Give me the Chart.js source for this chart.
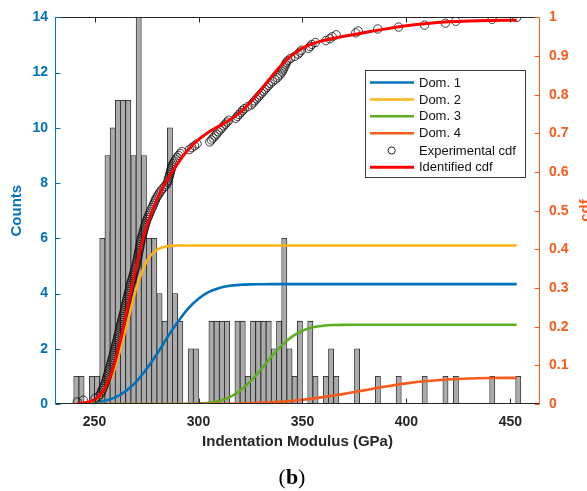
<!DOCTYPE html>
<html><head><meta charset="utf-8">
<script src="https://cdn.jsdelivr.net/npm/chart.js@4.4.1/dist/chart.umd.min.js"></script>
<style>html,body{margin:0;padding:0;background:#fff;}#wrap{width:587px;height:491px;}</style>
</head><body><div id="wrap"><canvas id="c" width="587" height="491"></canvas></div>
<script>
// ---- data ----
const binCenters = [241.25,243.75,246.25,248.75,251.25,253.75,256.25,258.75,261.25,263.75,
266.25,268.75,271.25,273.75,276.25,278.75,281.25,283.75,286.25,288.75,
291.25,293.75,296.25,298.75,301.25,303.75,306.25,308.75,311.25,313.75,
316.25,318.75,321.25,323.75,326.25,328.75,331.25,333.75,336.25,338.75,
341.25,343.75,346.25,348.75,351.25,353.75,356.25,358.75,361.25,363.75,
366.25,368.75,371.25,373.75,376.25,378.75,381.25,383.75,386.25,388.75,
391.25,393.75,396.25,398.75,401.25,403.75,406.25,408.75,411.25,413.75,
416.25,418.75,421.25,423.75,426.25,428.75,431.25,433.75,436.25,438.75,
441.25,443.75,446.25,448.75,451.25,453.75];
const counts = [1,1,0,1,1,6,9,10,11,11,
11,9,14,9,6,6,4,3,10,4,
3,0,2,2,0,0,3,3,3,3,
0,3,3,1,3,3,3,3,2,3,
6,2,1,3,0,3,1,0,1,2,
1,0,0,0,2,0,0,0,1,0,
0,0,1,0,0,0,0,1,0,0,
0,1,0,1,0,0,0,0,0,0,
1,0,0,0,0,1];
const curveX = [241.7,245,250,255,260,265,270,275,280,285,290,295,300,305,310,315,320,325,330,335,340,345,350,355,360,365,370,375,380,390,400,410,420,430,440,453];
const dom1 = [0.0007,0.0014,0.0035,0.0083,0.0173,0.0333,0.0571,0.0903,0.1292,0.1723,0.2122,0.247,0.2725,0.2901,0.3003,0.3058,0.3083,0.3094,0.3098,0.31,
0.31,0.31,0.31,0.31,0.31,0.31,0.31,0.31,0.31,0.31,0.31,0.31,0.31,0.31,0.31,0.31];
const dom2 = [0.0003,0.0013,0.0079,0.0331,0.0954,0.1936,0.2975,0.3682,0.399,0.4081,0.4098,
0.41,0.41,0.41,0.41,0.41,0.41,0.41,0.41,0.41,0.41,0.41,0.41,0.41,0.41,0.41,0.41,0.41,0.41,0.41,0.41,0.41,0.41,0.41,0.41,0.41];
const dom3 = [0,0,0,0,0,0,0,0,0,0,0,
0.0003,0.0011,0.0032,0.008,0.0178,0.0345,0.059,0.0895,0.1219,0.1515,0.1744,0.1896,0.1983,0.2024,0.2042,0.2048,0.205,0.205,
0.205,0.205,0.205,0.205,0.205,0.205,0.205];
const dom4 = [0,0,0,0,0,0,0,0,0,0,0,
0.0001,0.0002,0.0003,0.0005,0.0008,0.0013,0.002,0.003,0.0042,0.0059,0.0081,0.0108,0.014,0.0178,0.022,0.0262,0.031,0.0359,
0.0453,0.0534,0.0594,0.0635,0.0659,0.0671,0.0677];
const identified = [0.001,0.0027,0.0114,0.0414,0.1127,0.2269,0.3546,0.4585,0.5282,0.5804,0.622,0.6574,0.6838,0.7036,0.7188,0.7344,0.7541,0.7804,0.8123,0.8461,
0.8774,0.9025,0.9204,0.9323,0.9402,0.9462,0.951,0.956,0.9609,0.9703,0.9784,0.9844,0.9885,0.9909,0.9921,0.9927];
const expCdf = [[241.7,.005],[244.6,.010],[250.3,.015],[252.0,.020],[252.8,.025],[253.2,.030],[253.6,.035],[254.0,.040],[254.4,.045],[254.8,.050],
[255.2,.055],[255.5,.060],[255.8,.065],[256.0,.070],[256.3,.075],[256.6,.080],[256.9,.085],[257.1,.090],[257.4,.095],[257.7,.101],
[258.0,.106],[258.2,.111],[258.5,.116],[258.7,.121],[259.0,.126],[259.2,.131],[259.5,.136],[259.7,.141],[259.9,.146],[260.1,.151],
[260.4,.156],[260.6,.161],[260.9,.166],[261.1,.171],[261.3,.176],[261.6,.181],[261.8,.186],[262.0,.191],[262.2,.196],[262.4,.201],
[262.6,.206],[262.9,.211],[263.1,.216],[263.4,.221],[263.6,.226],[263.8,.231],[264.1,.236],[264.3,.241],[264.5,.246],[264.7,.251],
[264.9,.256],[265.1,.261],[265.4,.266],[265.6,.271],[265.8,.276],[266.1,.281],[266.3,.286],[266.5,.291],[266.8,.296],[267.0,.302],
[267.2,.307],[267.4,.312],[267.7,.317],[268.0,.322],[268.3,.327],[268.6,.332],[268.8,.337],[269.1,.342],[269.4,.347],[269.6,.352],
[269.9,.357],[270.1,.362],[270.3,.367],[270.5,.372],[270.7,.377],[270.9,.382],[271.0,.387],[271.2,.392],[271.4,.397],[271.6,.402],
[271.8,.407],[271.9,.412],[272.1,.417],[272.3,.422],[272.4,.427],[272.7,.432],[273.0,.437],[273.3,.442],[273.5,.447],[273.8,.452],
[274.1,.457],[274.3,.462],[274.6,.467],[274.9,.472],[275.2,.477],[275.6,.482],[276.0,.487],[276.4,.492],[276.8,.497],[277.2,.503],
[277.7,.508],[278.1,.513],[278.5,.518],[278.9,.523],[279.3,.528],[279.7,.533],[280.3,.538],[280.9,.543],[281.5,.548],[282.1,.553],
[283.0,.558],[283.8,.563],[284.6,.568],[285.1,.573],[285.4,.578],[285.6,.583],[285.9,.588],[286.1,.593],[286.4,.598],[286.6,.603],
[286.9,.608],[287.1,.613],[287.4,.618],[287.9,.623],[288.5,.628],[289.1,.633],[289.7,.638],[290.4,.643],[291.2,.648],[292.0,.653],
[295.6,.658],[296.8,.663],[298.1,.668],[299.3,.673],[305.4,.678],[306.2,.683],[307.0,.688],[307.9,.693],[308.7,.698],[309.5,.704],
[310.4,.709],[311.2,.714],[312.0,.719],[312.9,.724],[313.7,.729],[314.5,.734],[317.9,.739],[318.7,.744],[319.5,.749],[320.4,.754],
[321.2,.759],[322.0,.764],[323.7,.769],[325.4,.774],[326.2,.779],[327.0,.784],[327.9,.789],[328.7,.794],[329.5,.799],[330.4,.804],
[331.2,.809],[332.0,.814],[332.9,.819],[333.7,.824],[334.5,.829],[335.6,.834],[336.8,.839],[337.9,.844],[338.7,.849],[339.5,.854],
[340.2,.859],[340.6,.864],[341.0,.869],[341.5,.874],[341.9,.879],[342.3,.884],[343.1,.889],[344.3,.894],[346.2,.899],[347.9,.905],
[348.7,.910],[349.5,.915],[352.9,.920],[353.7,.925],[354.5,.930],[356.2,.935],[361.2,.940],[363.1,.945],[364.3,.950],[366.2,.955],
[375.6,.960],[376.8,.965],[386.2,.970],[396.2,.975],[408.7,.980],[418.7,.985],[423.7,.990],[441.2,.995],[453.0,1.000]];
const xTicks = [250,300,350,400,450];
const countTicks = [0,2,4,6,8,10,12,14];
const cdfTicks = [0,0.1,0.2,0.3,0.4,0.5,0.6,0.7,0.8,0.9,1];
const seriesNames = ['Dom. 1','Dom. 2','Dom. 3','Dom. 4','Experimental cdf','Identified cdf'];
const xTitle = 'Indentation Modulus (GPa)';
const yTitle = 'Counts';
const y1Title = 'cdf';
const panelLabel = '(b)';

// ---- styles ----
const COL = {blue:'#0072BD', yellow:'#FDB212', green:'#5EAE22', orange:'#F85A1B', red:'#FF0000', ink:'#262626'};
const SANS = "'Liberation Sans', Arial, sans-serif";
const SERIF = '"Liberation Serif", "Times New Roman", serif';
const pts = (xs, ys) => xs.map((x,i)=>({x, y:ys[i]}));

const overlay = {
  id:'overlay',
  afterDatasetsDraw(chart){
    const {ctx, chartArea:a, scales} = chart;
    const L = Math.round(a.left)+0.5, R = Math.round(a.right)-0.5, T = Math.round(a.top)+0.5, B = Math.round(a.bottom)-0.5;
    const seg=(x1,y1,x2,y2)=>{ctx.beginPath();ctx.moveTo(x1,y1);ctx.lineTo(x2,y2);ctx.stroke();};
    ctx.save(); ctx.lineWidth=1;
    ctx.strokeStyle=COL.ink;
    seg(L,T,R,T); seg(L,B,R,B);
    xTicks.forEach(v=>{const p=Math.round(scales.x.getPixelForValue(v))+0.5; seg(p,B,p,B-5); seg(p,T,p,T+5);});
    ctx.strokeStyle=COL.blue; seg(L,T-0.5,L,B+0.5);
    countTicks.forEach(v=>{const p=Math.round(scales.y.getPixelForValue(v))+0.5; seg(L,p,L+5,p);});
    ctx.strokeStyle=COL.orange; seg(R,T-0.5,R,B+0.5);
    cdfTicks.forEach(v=>{const p=Math.round(scales.y1.getPixelForValue(v))+0.5; seg(R,p,R-5,p);});
    ctx.restore();
  },
  afterDraw(chart){
    const {ctx} = chart;
    const ds = chart.data.datasets;
    ctx.save();
    // legend box
    const bx=365.5, by=70.5, bw=160, bh=107;
    ctx.fillStyle='#fff'; ctx.fillRect(bx,by,bw,bh);
    ctx.strokeStyle='#3a3a3a'; ctx.lineWidth=1; ctx.strokeRect(bx,by,bw,bh);
    const rows=[82.5,99.5,116.3,133.3,150.5,167.3];
    ctx.font='13px '+SANS; ctx.textBaseline='middle'; ctx.textAlign='left'; ctx.fillStyle='#111';
    for(let i=0;i<6;i++){
      const d = ds[i+1], yy=rows[i];
      if(i===4){
        ctx.beginPath(); ctx.arc(391.7,yy,3.6,0,Math.PI*2); ctx.strokeStyle='#111'; ctx.lineWidth=0.9; ctx.stroke();
      } else {
        ctx.beginPath(); ctx.moveTo(370,yy); ctx.lineTo(414,yy); ctx.strokeStyle=d.borderColor; ctx.lineWidth=d.borderWidth; ctx.stroke();
      }
      ctx.fillStyle='#111'; ctx.fillText(d.label,419,yy+0.5);
    }
    // right axis title
    ctx.save(); ctx.translate(590,210.5); ctx.rotate(-Math.PI/2);
    ctx.font='bold 15px '+SANS; ctx.fillStyle=COL.orange; ctx.textAlign='center'; ctx.textBaseline='alphabetic';
    ctx.fillText(y1Title,0,0); ctx.restore();
    // panel label (b)
    const fN='22px '+SERIF, fB='bold 22px '+SERIF;
    ctx.font=fN; const w1=ctx.measureText('(').width;
    ctx.font=fB; const w2=ctx.measureText('b').width;
    ctx.font=fN; const w3=ctx.measureText(')').width;
    let x0 = 292 - (w1+w2+w3)/2, yb=484;
    ctx.fillStyle='#000'; ctx.textAlign='left'; ctx.textBaseline='alphabetic';
    ctx.font=fN; ctx.fillText('(',x0,yb);
    ctx.font=fB; ctx.fillText(panelLabel.slice(1,2),x0+w1,yb);
    ctx.font=fN; ctx.fillText(')',x0+w1+w2,yb);
    ctx.restore();
  }
};

const lineDs = (label, ys, color, width, order) => ({type:'line', label, data:pts(curveX, ys), yAxisID:'y1', borderColor:color, backgroundColor:color, borderWidth:width, pointRadius:0, cubicInterpolationMode:'monotone', fill:false, order});

new Chart(document.getElementById('c'), {
  type:'bar',
  data:{datasets:[
    {type:'bar', label:yTitle, data:pts(binCenters, counts), yAxisID:'y', backgroundColor:'#ABABAB', borderColor:'#1E1E1E', borderWidth:0.8, borderSkipped:'start', barPercentage:1, categoryPercentage:1, order:10},
    lineDs(seriesNames[0], dom1, COL.blue, 2.6, 6),
    lineDs(seriesNames[1], dom2, COL.yellow, 2.6, 5),
    lineDs(seriesNames[2], dom3, COL.green, 2.6, 4),
    lineDs(seriesNames[3], dom4, COL.orange, 2.6, 3),
    {type:'line', label:seriesNames[4], data:expCdf.map(p=>({x:p[0], y:p[1]})), yAxisID:'y1', showLine:false, pointRadius:4.2, pointBorderWidth:0.8, pointBorderColor:'#111', pointBackgroundColor:'rgba(0,0,0,0)', borderColor:'#111', order:2},
    lineDs(seriesNames[5], identified, COL.red, 3, 1)
  ]},
  options:{
    responsive:false, animation:false, devicePixelRatio:1,
    layout:{padding:{top:17, left:0, right:0, bottom:0}},
    plugins:{legend:{display:false}, tooltip:{enabled:false}},
    scales:{
      x:{type:'linear', position:'bottom', min:231, max:464.2, offset:false,
        grid:{display:false, drawTicks:false, offset:false}, border:{display:false},
        afterBuildTicks:s=>{s.ticks = xTicks.map(v=>({value:v}));},
        afterFit:s=>{s.height = 87;},
        ticks:{color:COL.ink, font:{family:SANS, size:14, weight:'bold'}, padding:10, maxRotation:0, autoSkip:false},
        title:{display:true, text:xTitle, color:COL.ink, font:{family:SANS, size:15, weight:'bold'}, padding:{top:0, bottom:40}}},
      y:{type:'linear', position:'left', min:0, max:14,
        grid:{display:false, drawTicks:false}, border:{display:false},
        afterBuildTicks:s=>{s.ticks = countTicks.map(v=>({value:v}));},
        afterFit:s=>{s.width = 55;},
        ticks:{color:COL.blue, font:{family:SANS, size:14, weight:'bold'}, padding:7, autoSkip:false},
        title:{display:true, text:yTitle, color:COL.blue, font:{family:SANS, size:15, weight:'bold'}, padding:{top:8, bottom:0}}},
      y1:{type:'linear', position:'right', min:0, max:1,
        grid:{display:false, drawTicks:false}, border:{display:false},
        afterBuildTicks:s=>{s.ticks = cdfTicks.map(v=>({value:v}));},
        afterFit:s=>{s.width = 47;},
        ticks:{color:COL.orange, font:{family:SANS, size:14, weight:'bold'}, padding:9, autoSkip:false, callback:v=>String(v)}}
    }
  },
  plugins:[overlay]
});
</script></body></html>
